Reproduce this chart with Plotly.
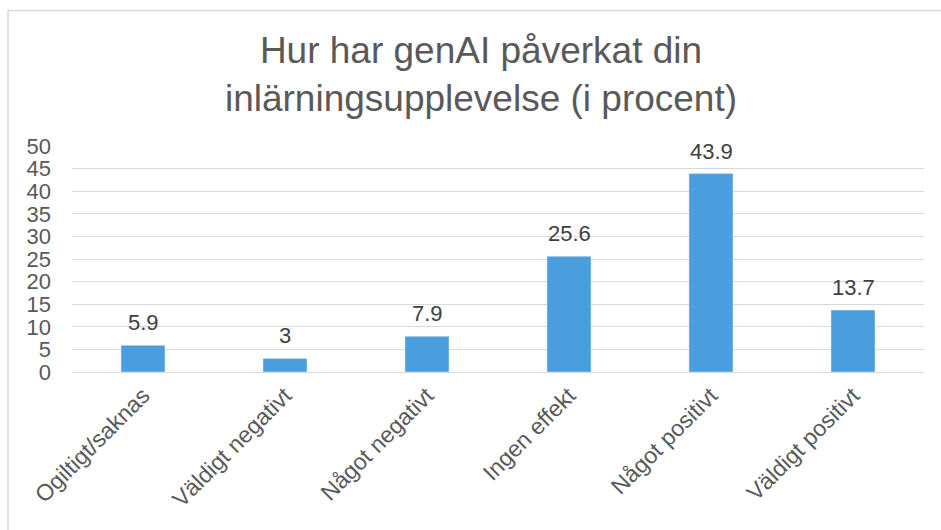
import plotly.graph_objects as go

categories = ["Ogiltigt/saknas", "Väldigt negativt", "Något negativt", "Ingen effekt", "Något positivt", "Väldigt positivt"]
values = [5.9, 3, 7.9, 25.6, 43.9, 13.7]
value_labels = ["5.9", "3", "7.9", "25.6", "43.9", "13.7"]
y_ticks = [0, 5, 10, 15, 20, 25, 30, 35, 40, 45, 50]
title_text = "Hur har genAI påverkat din<br>inlärningsupplevelse (i procent)"

W, H = 941, 530
ml, mr, mt, mb = 72, 17, 146, 158
FONT = "Liberation Sans, Arial"

fig = go.Figure(go.Bar(
    x=categories, y=values,
    marker=dict(color="#4A9EDD"), cliponaxis=False, width=0.31,
))

for c, v, t in zip(categories, values, value_labels):
    fig.add_annotation(x=c, y=v, text=t, showarrow=False, yanchor="bottom",
                       yshift=8, font=dict(family=FONT, size=22, color="#404040"))

pw = W - ml - mr
ph = H - mt - mb
x0 = (8 - ml) / pw
x1 = (W + 5 - ml) / pw
y1 = (H - 10.5 - mb) / ph
y0 = (-5 - mb) / ph
fig.add_shape(type="rect", xref="paper", yref="paper", x0=x0, x1=x1, y0=y0, y1=y1,
              line=dict(color="#D9D9D9", width=1.5), layer="below")

fig.update_layout(
    width=W, height=H,
    margin=dict(l=ml, r=mr, t=mt, b=mb),
    paper_bgcolor="white", plot_bgcolor="white",
    font=dict(family=FONT, color="#595959"),
    title=dict(text=title_text, x=481 / W, xref="container", xanchor="center",
               y=1 - 63 / H, yanchor="middle",
               font=dict(size=37, color="#595959", family=FONT)),
    xaxis=dict(tickangle=-45, tickfont=dict(size=23, color="#595959"), showgrid=False,
               showline=True, linecolor="#D9D9D9", ticks=""),
    yaxis=dict(range=[0, 50], tickvals=y_ticks, tickfont=dict(size=22, color="#595959"),
               showgrid=True, gridcolor="#D9D9D9", gridwidth=1, zeroline=False,
               ticks="", ticklabelstandoff=20),
    showlegend=False,
)
fig.write_html("out.html", config={"displayModeBar": False},
               post_script="document.body.style.margin='0';")
